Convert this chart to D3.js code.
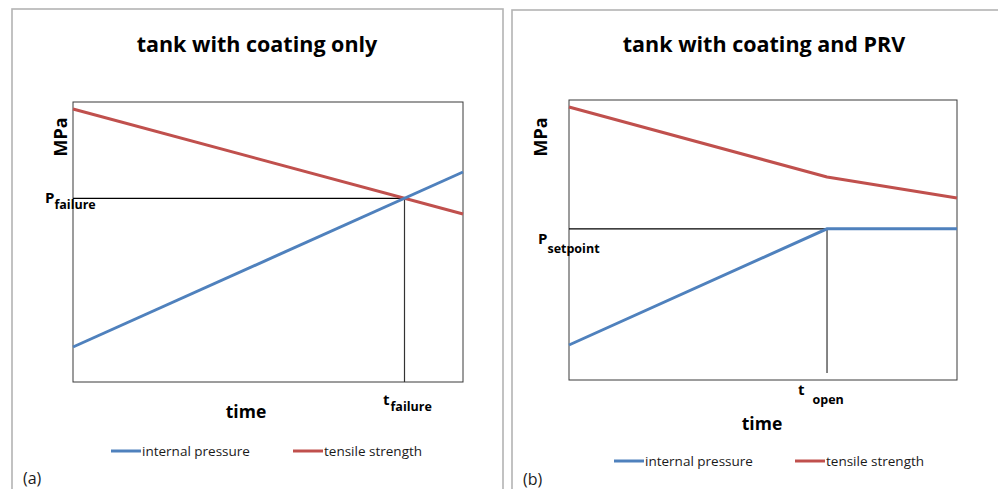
<!DOCTYPE html>
<html>
<head>
<meta charset="utf-8">
<script src="https://cdn.jsdelivr.net/npm/d3@7"></script>
<style>
  html, body { margin: 0; padding: 0; background: #fff; }
  svg { display: block; font-family: "Open Sans", "Noto Sans", sans-serif; }
</style>
</head>
<body>
<svg id="chart" width="998" height="489"></svg>
<script>
// ---- data ----
const seriesNames = ["internal pressure", "tensile strength"];
const panelTitles = ["tank with coating only", "tank with coating and PRV"];
const panelTags = ["(a)", "(b)"];
const timeDomain = [0, 10];
const mpaDomain = [0, 100];

// (a) coating only: pressure rises until it meets the falling strength
const timeA = [0, 10];
const pressureA = [12.5, 75];
const strengthA = [97.5, 60];
const failureTime = 8.5;
const failurePressure = 65.6;

// (b) coating + PRV: pressure capped at the valve setpoint
const timeB = [0, 6.65, 10];
const pressureB = [12.5, 54, 54];
const strengthB = [97.5, 72.5, 65];
const openTime = 6.65;
const setpointPressure = 54;
const openGuideLow = 2.5;

const colors = { pressure: "#4F81BD", strength: "#C0504D" };

// ---- layout ----
const panels = [
  {
    frame: { x: 12, y: 9, w: 491, h: 495 },
    plot: { x: 73, y: 102, w: 390, h: 280 },
    title: { x: 257, y: 52 },
    mpa: { x: 60, y: 137 },
    time: { x: 246, y: 418 },
    legendY: 451, legendX: [111, 293],
    tag: { x: 23, y: 484 },
    pLabel: { x: 45, y: 203, sub: "failure", dy: 6 },
    tLabel: { x: 383, y: 405, sub: "failure", dy: 6, gap: 1 },
    time_: timeA, pressure: pressureA, strength: strengthA,
    markT: failureTime, markP: failurePressure, guideLow: 0
  },
  {
    frame: { x: 512, y: 10, w: 495, h: 495 },
    plot: { x: 569, y: 100, w: 388, h: 280 },
    title: { x: 764, y: 52 },
    mpa: { x: 540, y: 137 },
    time: { x: 762, y: 430 },
    legendY: 461, legendX: [614, 795],
    tag: { x: 523, y: 485 },
    pLabel: { x: 538, y: 244, sub: "setpoint", dy: 9 },
    tLabel: { x: 798, y: 395, sub: "open", dy: 9, gap: 8 },
    time_: timeB, pressure: pressureB, strength: strengthB,
    markT: openTime, markP: setpointPressure, guideLow: openGuideLow
  }
];

const svg = d3.select("#chart");

panels.forEach((p, i) => {
  const g = svg.append("g");

  // panel frame
  g.append("rect")
    .attr("x", p.frame.x).attr("y", p.frame.y)
    .attr("width", p.frame.w).attr("height", p.frame.h)
    .attr("fill", "none").attr("stroke", "#b3b3b3").attr("stroke-width", 1.6);

  const x = d3.scaleLinear().domain(timeDomain).range([p.plot.x, p.plot.x + p.plot.w]);
  const y = d3.scaleLinear().domain(mpaDomain).range([p.plot.y + p.plot.h, p.plot.y]);

  // plot area border
  g.append("rect")
    .attr("x", x(timeDomain[0])).attr("y", y(mpaDomain[1]))
    .attr("width", x(timeDomain[1]) - x(timeDomain[0]))
    .attr("height", y(mpaDomain[0]) - y(mpaDomain[1]))
    .attr("fill", "none").attr("stroke", "#3a3a3a").attr("stroke-width", 1);

  // guide lines to the critical point
  g.append("line")
    .attr("x1", x(timeDomain[0])).attr("x2", x(p.markT))
    .attr("y1", y(p.markP)).attr("y2", y(p.markP))
    .attr("stroke", "#000").attr("stroke-width", 1.2);
  g.append("line")
    .attr("x1", x(p.markT)).attr("x2", x(p.markT))
    .attr("y1", y(p.markP)).attr("y2", y(p.guideLow))
    .attr("stroke", "#333").attr("stroke-width", 1.2);

  const line = d3.line().x(d => x(d[0])).y(d => y(d[1]));

  g.append("path")
    .datum(d3.zip(p.time_, p.strength))
    .attr("d", line)
    .attr("fill", "none").attr("stroke", colors.strength).attr("stroke-width", 3)
    .attr("stroke-linejoin", "round");
  g.append("path")
    .datum(d3.zip(p.time_, p.pressure))
    .attr("d", line)
    .attr("fill", "none").attr("stroke", colors.pressure).attr("stroke-width", 3);

  // title
  g.append("text")
    .attr("x", p.title.x).attr("y", p.title.y)
    .attr("text-anchor", "middle")
    .attr("font-size", 21.5).attr("font-weight", "bold")
    .text(panelTitles[i]);

  // axis titles
  g.append("text")
    .attr("transform", `translate(${p.mpa.x},${p.mpa.y}) rotate(-90)`)
    .attr("text-anchor", "middle").attr("dominant-baseline", "central")
    .attr("font-size", 18).attr("font-weight", "bold")
    .text("MPa");
  g.append("text")
    .attr("x", p.time.x).attr("y", p.time.y)
    .attr("text-anchor", "middle")
    .attr("font-size", 17.5).attr("font-weight", "bold")
    .text("time");

  // P and t labels with subscripts
  const pl = g.append("text")
    .attr("x", p.pLabel.x).attr("y", p.pLabel.y)
    .attr("font-weight", "bold");
  pl.append("tspan").attr("font-size", 15).text("P");
  pl.append("tspan").attr("font-size", 12.5).attr("dy", p.pLabel.dy).text(p.pLabel.sub);

  const tl = g.append("text")
    .attr("x", p.tLabel.x).attr("y", p.tLabel.y)
    .attr("font-weight", "bold");
  tl.append("tspan").attr("font-size", 15).text("t");
  tl.append("tspan").attr("font-size", 12.5).attr("dx", p.tLabel.gap).attr("dy", p.tLabel.dy).text(p.tLabel.sub);

  // legend
  const legendColors = [colors.pressure, colors.strength];
  seriesNames.forEach((name, k) => {
    const lx = p.legendX[k];
    g.append("line")
      .attr("x1", lx).attr("x2", lx + 30)
      .attr("y1", p.legendY).attr("y2", p.legendY)
      .attr("stroke", legendColors[k]).attr("stroke-width", 3);
    g.append("text")
      .attr("x", lx + 31).attr("y", p.legendY)
      .attr("dominant-baseline", "central")
      .attr("font-size", 13.5).attr("fill", "#1a1a1a")
      .text(name);
  });

  // panel tag
  g.append("text")
    .attr("x", p.tag.x).attr("y", p.tag.y)
    .attr("font-size", 16).attr("fill", "#1a1a1a")
    .text(panelTags[i]);
});
</script>
</body>
</html>
